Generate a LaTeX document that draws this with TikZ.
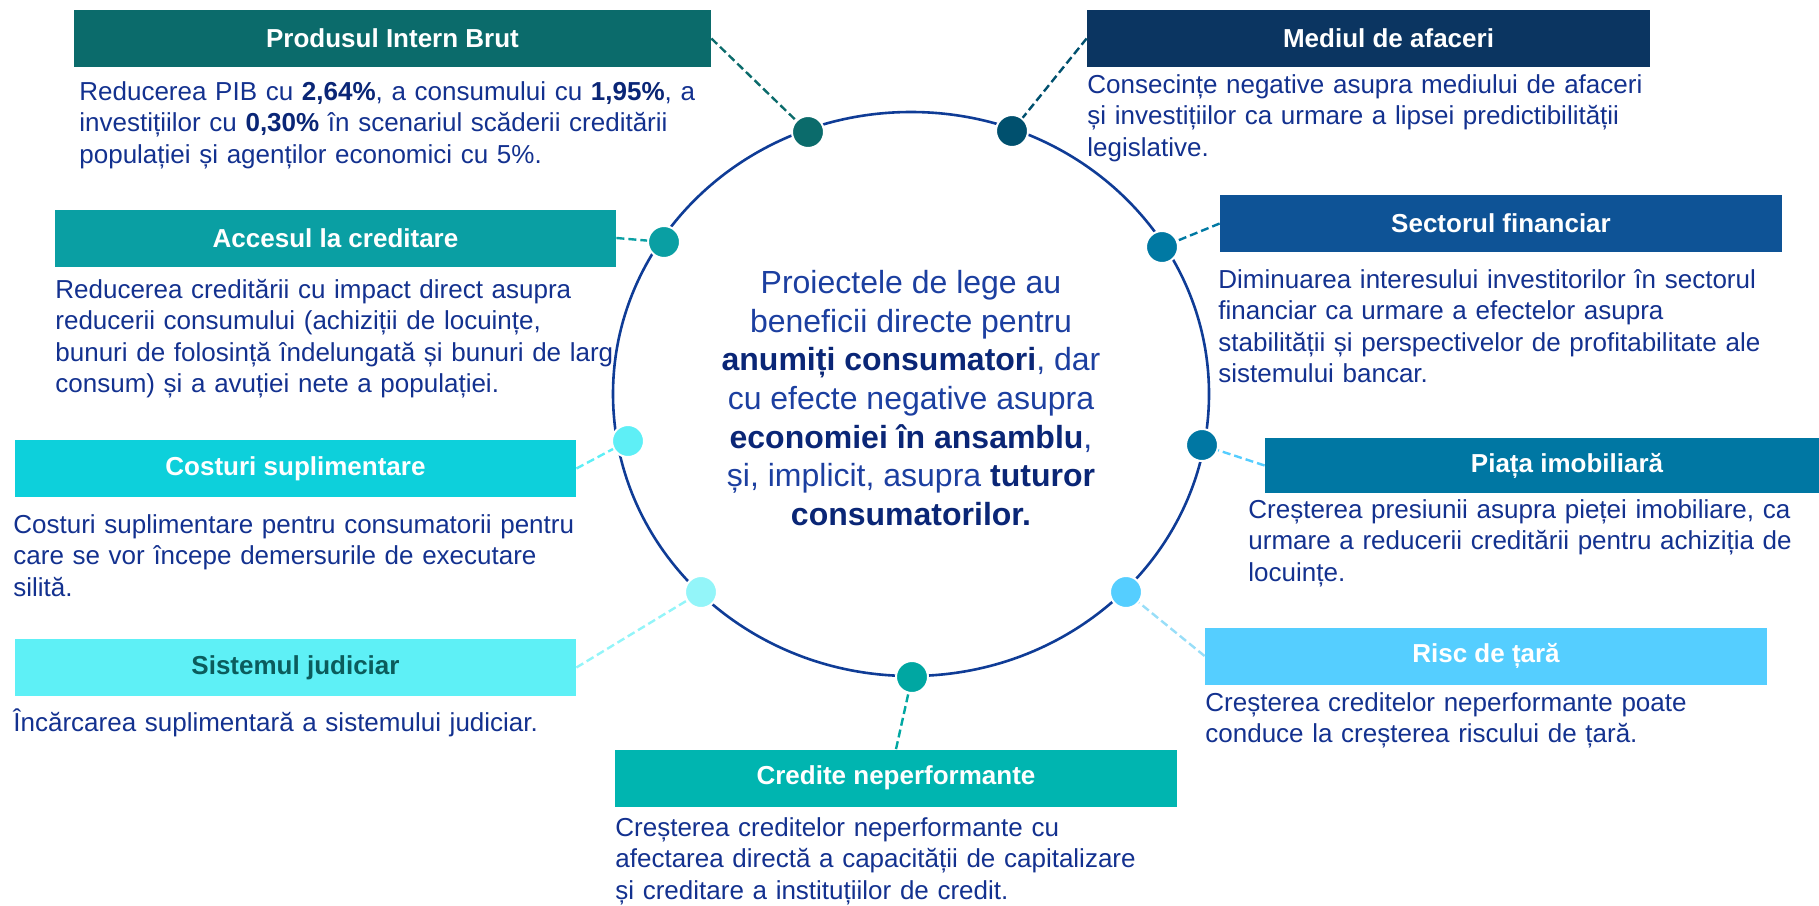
\documentclass[tikz,border=0pt]{standalone}
\usepackage{fontspec}
\setmainfont{Liberation Sans}

\definecolor{cRing}{HTML}{0F3C96}
\definecolor{cTxt}{HTML}{13318F}
\definecolor{cBold}{HTML}{0A2676}
\definecolor{cMid}{HTML}{1C3FA0}
\definecolor{cPIB}{HTML}{0B6B6B}
\definecolor{cMed}{HTML}{0B3561}
\definecolor{cMedD}{HTML}{00506E}
\definecolor{cAcc}{HTML}{0A9FA3}
\definecolor{cSec}{HTML}{0E5396}
\definecolor{cSecD}{HTML}{0079A3}
\definecolor{cCos}{HTML}{0DD0DB}
\definecolor{cCosD}{HTML}{5EEFF6}
\definecolor{cSis}{HTML}{5EF0F6}
\definecolor{cSisD}{HTML}{93F5F9}
\definecolor{cSisT}{HTML}{0B5C5C}
\definecolor{cPia}{HTML}{0077A3}
\definecolor{cPiaL}{HTML}{55CDFF}
\definecolor{cRis}{HTML}{55CEFF}
\definecolor{cRisL}{HTML}{98DEF8}
\definecolor{cCre}{HTML}{00B5B0}
\definecolor{cCreD}{HTML}{00A7A2}

\newcommand{\strongtxt}[1]{\textbf{\color{cBold}#1}}

\begin{document}
\begin{tikzpicture}[x=0.5pt, y=-0.5pt,
  hdr/.style={rectangle, inner sep=0pt, minimum height=28.5pt, text=white,
    font=\bfseries\fontsize{13}{15.8}\selectfont},
  body/.style={anchor=base west, inner sep=0pt, text width=345pt, align=left,
    text=cTxt, font=\fontsize{13}{15.8}\selectfont},
  dot/.style={circle, inner sep=0pt, minimum size=16pt, draw=white, line width=1pt},
  link/.style={dash pattern=on 4pt off 2pt, line width=1.2pt}]

\useasboundingbox (0,0) rectangle (1819,905);

% ring
\path[draw=cRing, line width=1.3pt] (911,394) ellipse [x radius=298, y radius=282];

% headers
\node[hdr, fill=cPIB, minimum width=318.5pt] (pibH) at (392.5,38.5) {Produsul Intern Brut};
\node[hdr, fill=cMed, minimum width=281.5pt] (medH) at (1368.5,38.5) {\hspace*{20pt}Mediul de afaceri};
\node[hdr, fill=cAcc, minimum width=280.5pt] (accH) at (335.5,238) {Accesul la creditare};
\node[hdr, fill=cSec, minimum width=281pt] (secH) at (1501,223.5) {Sectorul financiar};
\node[hdr, fill=cCos, minimum width=280.5pt] (cosH) at (295.5,468.5) {Costuri suplimentare};
\node[hdr, fill=cPia, minimum width=302pt, minimum height=27.5pt] (piaH) at (1567,465.5) {Piața imobiliară};
\node[hdr, fill=cSis, text=cSisT, minimum width=280.5pt] (sisH) at (295.5,667.5) {Sistemul judiciar};
\node[hdr, fill=cRis, minimum width=281pt] (risH) at (1486,656) {Risc de țară};
\node[hdr, fill=cCre, minimum width=281pt] (creH) at (896,778) {Credite neperformante};

% dots
\node[dot, fill=cPIB] (pibD) at (808,132) {};
\node[dot, fill=cMedD] (medD) at (1012,131) {};
\node[dot, fill=cAcc] (accD) at (664,242) {};
\node[dot, fill=cSecD] (secD) at (1162,247) {};
\node[dot, fill=cCosD] (cosD) at (628,441) {};
\node[dot, fill=cPia] (piaD) at (1202,445) {};
\node[dot, fill=cSisD] (sisD) at (701,592) {};
\node[dot, fill=cRis] (risD) at (1126,592) {};
\node[dot, fill=cCreD] (creD) at (912,677) {};

% dashed links
\draw[link, cPIB] (pibH.east) -- (pibD);
\draw[link, cMedD] (medH.west) -- (medD);
\draw[link, cAcc] (accH.east) -- (accD);
\draw[link, cSecD] (secH.west) -- (secD);
\draw[link, cCosD] (cosH.east) -- (cosD);
\draw[link, cSisD] (sisH.east) -- (sisD);
\draw[link, cPiaL] (piaH.west) -- (piaD);
\draw[link, cRisL] (risH.west) -- (risD);
\draw[link, cCreD] (creH.north) -- (creD);

% texts
\node[body] (pibT) at (79,100) {Reducerea PIB cu \strongtxt{2,64\%}, a consumului cu \strongtxt{1,95\%}, a\\
  investițiilor cu \strongtxt{0,30\%} în scenariul scăderii creditării\\
  populației și agenților economici cu 5\%.};
\node[body] (medT) at (1087,93) {Consecințe negative asupra mediului de afaceri\\
  și investițiilor ca urmare a lipsei predictibilității\\
  legislative.};
\node[body] (accT) at (55,298) {Reducerea creditării cu impact direct asupra\\
  reducerii consumului (achiziții de locuințe,\\
  bunuri de folosință îndelungată și bunuri de larg\\
  consum) și a avuției nete a populației.};
\node[body] (secT) at (1218,288) {Diminuarea interesului investitorilor în sectorul\\
  financiar ca urmare a efectelor asupra\\
  stabilității și perspectivelor de profitabilitate ale\\
  sistemului bancar.};
\node[body] (cosT) at (13,533) {Costuri suplimentare pentru consumatorii pentru\\
  care se vor începe demersurile de executare\\
  silită.};
\node[body] (sisT) at (13,731) {Încărcarea suplimentară a sistemului judiciar.};
\node[body] (piaT) at (1248,518) {Creșterea presiunii asupra pieței imobiliare, ca\\
  urmare a reducerii creditării pentru achiziția de\\
  locuințe.};
\node[body] (risT) at (1205,711) {Creșterea creditelor neperformante poate\\
  conduce la creșterea riscului de țară.};
\node[body] (creT) at (615,836) {Creșterea creditelor neperformante cu\\
  afectarea directă a capacității de capitalizare\\
  și creditare a instituțiilor de credit.};

\node[align=center, text=cMid, font=\fontsize{16}{19.3}\selectfont] (core) at (911,398)
  {Proiectele de lege au\\
   beneficii directe pentru\\
   \strongtxt{anumiți consumatori}, dar\\
   cu efecte negative asupra\\
   \strongtxt{economiei în ansamblu},\\
   și, implicit, asupra \strongtxt{tuturor}\\
   \strongtxt{consumatorilor.}};

\end{tikzpicture}
\end{document}
